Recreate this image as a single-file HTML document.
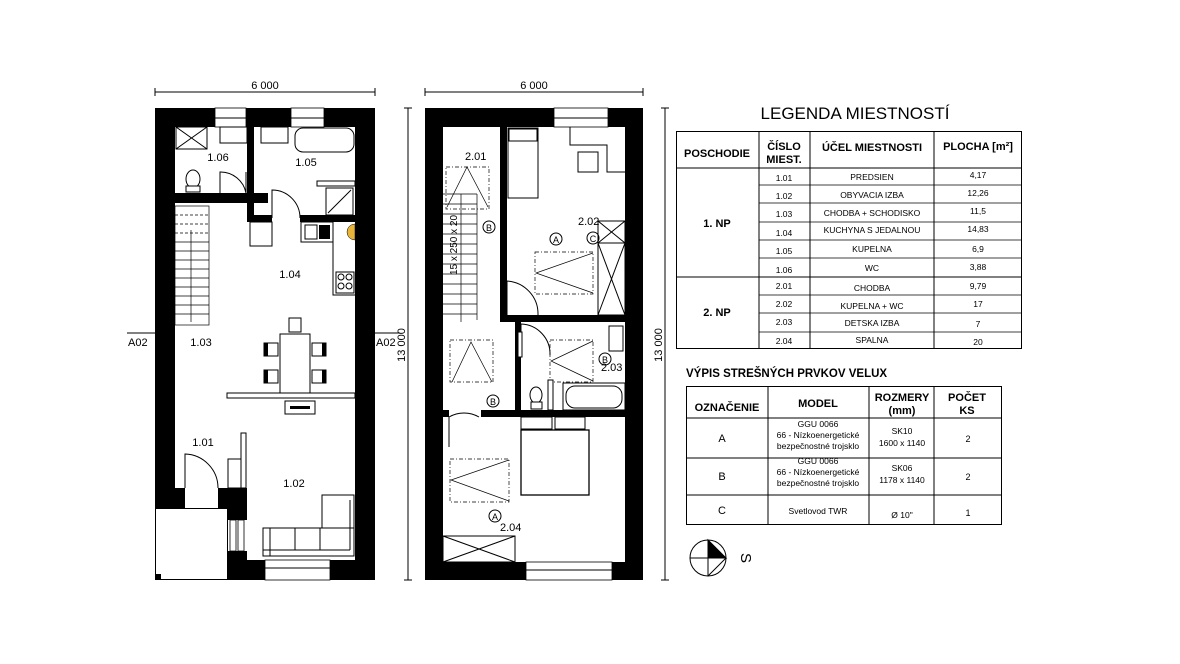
<!DOCTYPE html>
<html><head><meta charset="utf-8"><style>
html,body{margin:0;padding:0;background:#fff}
svg{display:block}
text{font-family:"Liberation Sans",sans-serif;fill:#000}
</style></head><body>
<svg width="1180" height="664" viewBox="0 0 1180 664" xmlns="http://www.w3.org/2000/svg">
<rect width="1180" height="664" fill="#fff"/>

<!-- ===== PLAN 1 ===== -->
<g>
<!-- dimension top -->
<line x1="155" y1="92" x2="375" y2="92" stroke="#000" stroke-width="1"/>
<line x1="155" y1="88" x2="155" y2="96" stroke="#000"/><line x1="375" y1="88" x2="375" y2="96" stroke="#000"/>
<text x="265" y="89" font-size="11" text-anchor="middle">6 000</text>
<!-- outer walls -->
<rect x="155" y="108" width="220" height="19" fill="#000"/>
<rect x="355" y="108" width="20" height="472" fill="#000"/>
<rect x="155" y="108" width="20" height="380" fill="#000"/>
<rect x="155" y="488" width="30" height="20" fill="#000"/>
<rect x="218" y="488" width="29" height="20" fill="#000"/>
<rect x="228" y="508" width="19" height="12" fill="#000"/>
<rect x="228" y="551" width="19" height="29" fill="#000"/>
<rect x="228" y="560" width="147" height="20" fill="#000"/>
<rect x="155.5" y="508.5" width="72" height="71" fill="#fff" stroke="#000"/>
<rect x="230" y="520" width="6" height="31" fill="#fff" stroke="#000" stroke-width="0.8"/>
<rect x="238" y="520" width="6" height="31" fill="#fff" stroke="#000" stroke-width="0.8"/>
<rect x="185" y="508" width="33" height="0" stroke="#000"/>
<!-- windows top -->
<rect x="215" y="108" width="31" height="19" fill="#fff" stroke="#000" stroke-width="0.8"/>
<line x1="215" y1="118" x2="246" y2="118" stroke="#000"/>
<rect x="291" y="108" width="33" height="19" fill="#fff" stroke="#000" stroke-width="0.8"/>
<line x1="291" y1="118" x2="324" y2="118" stroke="#000"/>
<!-- window bottom -->
<rect x="265" y="560" width="65" height="20" fill="#fff" stroke="#000" stroke-width="0.8"/>
<line x1="265" y1="568" x2="330" y2="568" stroke="#000"/>
<!-- WC walls -->
<rect x="175" y="193" width="93" height="10" fill="#000"/>
<rect x="247" y="127" width="7" height="95" fill="#000"/>
<rect x="247" y="215" width="25" height="7" fill="#000"/>
<rect x="300" y="215" width="55" height="7" fill="#000"/>
<!-- WC fixtures -->
<rect x="176" y="127" width="31" height="22" fill="#fff" stroke="#000"/>
<line x1="176" y1="127" x2="207" y2="149" stroke="#000"/><line x1="207" y1="127" x2="176" y2="149" stroke="#000"/>
<rect x="220" y="127" width="27" height="16" fill="#fff" stroke="#000"/>
<rect x="261" y="127" width="27" height="16" fill="#fff" stroke="#000"/>
<rect x="295" y="128" width="59" height="24" rx="8" fill="#fff" stroke="#000"/>
<ellipse cx="193" cy="179" rx="7" ry="9" fill="#fff" stroke="#000"/>
<rect x="186" y="186" width="14" height="6" fill="#fff" stroke="#000"/>
<path d="M220 193 V172 A26 26 0 0 1 246 193" fill="none" stroke="#000"/>
<line x1="246" y1="172" x2="246" y2="193" stroke="#000"/>
<path d="M272 218 V190 A28 28 0 0 1 300 218" fill="none" stroke="#000"/>
<rect x="317" y="181" width="38" height="5" fill="#fff" stroke="#000"/>
<rect x="326" y="188" width="27" height="27" fill="#fff" stroke="#000"/>
<line x1="328" y1="213" x2="351" y2="190" stroke="#000"/>
<path d="M355 224 A8 8 0 0 0 355 240 Z" fill="#e8b53a" stroke="#000" stroke-width="0.5"/>
<text x="218" y="161" font-size="11" text-anchor="middle">1.06</text>
<text x="306" y="166" font-size="11" text-anchor="middle">1.05</text>
<!-- kitchen counters -->
<rect x="250" y="222" width="22" height="24" fill="#fff" stroke="#000"/>
<rect x="301" y="222" width="32" height="20" fill="#fff" stroke="#000"/>
<rect x="305" y="225" width="12" height="14" fill="#fff" stroke="#000"/>
<rect x="319" y="225" width="11" height="14" fill="#000"/>
<polyline points="333,242 333,295 355,295" fill="none" stroke="#000"/>
<rect x="336" y="272" width="18" height="21" fill="#fff" stroke="#000"/>
<circle cx="341" cy="277" r="3" fill="none" stroke="#000"/><circle cx="349" cy="277" r="3" fill="none" stroke="#000"/>
<circle cx="341" cy="286" r="3" fill="none" stroke="#000"/><circle cx="349" cy="286" r="3" fill="none" stroke="#000"/>
<text x="290" y="278" font-size="11" text-anchor="middle">1.04</text>
<!-- stairs -->
<g stroke="#000" stroke-width="0.7" fill="none">
<rect x="175" y="206" width="34" height="119"/>
<line x1="175" y1="215" x2="209" y2="215" stroke-dasharray="3,2"/>
<line x1="175" y1="224" x2="209" y2="224" stroke-dasharray="3,2"/>
<line x1="175" y1="233" x2="209" y2="233" stroke-dasharray="3,2"/>
<line x1="175" y1="242" x2="209" y2="242"/>
<line x1="175" y1="251" x2="209" y2="251"/>
<line x1="175" y1="260" x2="209" y2="260"/>
<line x1="175" y1="269" x2="209" y2="269"/>
<line x1="175" y1="278" x2="209" y2="278"/>
<line x1="175" y1="287" x2="209" y2="287"/>
<line x1="175" y1="296" x2="209" y2="296"/>
<line x1="175" y1="305" x2="209" y2="305"/>
<line x1="175" y1="314" x2="209" y2="314"/>
<line x1="191" y1="230" x2="191" y2="322"/>
</g>
<text x="201" y="346" font-size="11" text-anchor="middle">1.03</text>
<text x="128" y="346" font-size="11">A02</text><line x1="127" y1="333" x2="155" y2="333" stroke="#000"/>
<text x="376" y="346" font-size="11">A02</text><line x1="375" y1="333" x2="400" y2="333" stroke="#000"/>
<!-- dining -->
<rect x="280" y="334" width="30" height="60" fill="#fff" stroke="#000"/>
<rect x="289" y="318" width="12" height="14" fill="#fff" stroke="#000"/>
<rect x="264" y="343" width="14" height="13" fill="#fff" stroke="#000"/><rect x="264" y="343" width="4" height="13" fill="#000"/>
<rect x="264" y="370" width="14" height="13" fill="#fff" stroke="#000"/><rect x="264" y="370" width="4" height="13" fill="#000"/>
<rect x="312" y="343" width="14" height="13" fill="#fff" stroke="#000"/><rect x="322" y="343" width="4" height="13" fill="#000"/>
<rect x="312" y="370" width="14" height="13" fill="#fff" stroke="#000"/><rect x="322" y="370" width="4" height="13" fill="#000"/>
<rect x="227" y="393" width="128" height="5" fill="#fff" stroke="#000"/>
<rect x="285" y="401" width="30" height="13" fill="#fff" stroke="#000"/>
<rect x="290" y="406" width="20" height="3" fill="#000"/>
<!-- entry -->
<rect x="241" y="433" width="5" height="55" fill="#fff" stroke="#000"/>
<rect x="228" y="459" width="13" height="29" fill="#fff" stroke="#000"/>
<path d="M185 488 V454 A34 34 0 0 1 218 488" fill="none" stroke="#000"/>
<text x="203" y="446" font-size="11" text-anchor="middle">1.01</text>
<text x="294" y="487" font-size="11" text-anchor="middle">1.02</text>
<!-- sofa -->
<rect x="322" y="495" width="32" height="61" fill="#fff" stroke="#000"/>
<rect x="263" y="528" width="91" height="28" fill="#fff" stroke="#000"/>
<line x1="270" y1="528" x2="270" y2="556" stroke="#000"/><line x1="295" y1="528" x2="295" y2="550" stroke="#000"/>
<line x1="320" y1="528" x2="320" y2="550" stroke="#000"/><line x1="263" y1="550" x2="350" y2="550" stroke="#000"/>
<line x1="350" y1="500" x2="350" y2="550" stroke="#000"/>
<rect x="155" y="574" width="6" height="6" fill="#000"/>
</g>

<!-- vertical dims -->
<line x1="408" y1="108" x2="408" y2="580" stroke="#000"/>
<line x1="404" y1="108" x2="412" y2="108" stroke="#000"/><line x1="404" y1="580" x2="412" y2="580" stroke="#000"/>
<text transform="translate(405,345) rotate(-90)" font-size="11" text-anchor="middle">13 000</text>
<line x1="665" y1="108" x2="665" y2="580" stroke="#000"/>
<line x1="661" y1="108" x2="669" y2="108" stroke="#000"/><line x1="661" y1="580" x2="669" y2="580" stroke="#000"/>
<text transform="translate(662,345) rotate(-90)" font-size="11" text-anchor="middle">13 000</text>

<!-- ===== PLAN 2 ===== -->
<g>
<line x1="425" y1="92" x2="643" y2="92" stroke="#000"/>
<line x1="425" y1="88" x2="425" y2="96" stroke="#000"/><line x1="643" y1="88" x2="643" y2="96" stroke="#000"/>
<text x="534" y="89" font-size="11" text-anchor="middle">6 000</text>
<rect x="425" y="108" width="218" height="19" fill="#000"/>
<rect x="425" y="108" width="18" height="472" fill="#000"/>
<rect x="625" y="108" width="18" height="472" fill="#000"/>
<rect x="425" y="562" width="218" height="18" fill="#000"/>
<rect x="554" y="108" width="54" height="19" fill="#fff" stroke="#000" stroke-width="0.8"/>
<line x1="554" y1="118" x2="608" y2="118" stroke="#000"/>
<rect x="526" y="562" width="86" height="18" fill="#fff" stroke="#000" stroke-width="0.8"/>
<line x1="526" y1="570" x2="612" y2="570" stroke="#000"/>
<!-- interior walls -->
<rect x="500" y="127" width="7" height="195" fill="#000"/>
<rect x="500" y="315" width="125" height="7" fill="#000"/>
<rect x="515" y="315" width="6" height="100" fill="#000"/>
<rect x="443" y="410" width="182" height="7" fill="#000"/>
<rect x="449" y="410" width="32" height="7" fill="#fff"/>
<!-- stairs -->
<g stroke="#000" stroke-width="0.7" fill="none">
<line x1="443" y1="194" x2="477" y2="194"/>
<line x1="443" y1="204" x2="477" y2="204"/><line x1="443" y1="214" x2="477" y2="214"/>
<line x1="443" y1="224" x2="477" y2="224"/><line x1="443" y1="234" x2="477" y2="234"/>
<line x1="443" y1="244" x2="477" y2="244"/><line x1="443" y1="254" x2="477" y2="254"/>
<line x1="443" y1="264" x2="477" y2="264"/><line x1="443" y1="274" x2="477" y2="274"/>
<line x1="443" y1="284" x2="477" y2="284"/><line x1="443" y1="294" x2="477" y2="294"/>
<line x1="443" y1="304" x2="477" y2="304"/><line x1="443" y1="314" x2="477" y2="314"/>
<line x1="477" y1="194" x2="477" y2="320"/>
<line x1="461" y1="194" x2="461" y2="322"/>
<rect x="446" y="167" width="43" height="42" stroke-dasharray="4,2,1,2"/>
<polyline points="447,207 467,167 488,207"/>
<rect x="450" y="340" width="43" height="42" stroke-dasharray="4,2,1,2"/>
<polyline points="452,382 471,342 492,382"/>
</g>
<text x="465" y="160" font-size="11">2.01</text>
<text transform="translate(457,245) rotate(-90)" font-size="10" text-anchor="middle">15 x 250 x 20</text>
<circle cx="489" cy="227" r="6" fill="#fff" stroke="#000"/><text x="489" y="231" font-size="9" text-anchor="middle">B</text>
<circle cx="493" cy="401" r="6" fill="#fff" stroke="#000"/><text x="493" y="405" font-size="9" text-anchor="middle">B</text>
<!-- 2.02 -->
<rect x="508" y="128" width="30" height="70" fill="#fff" stroke="#000"/>
<rect x="509" y="129" width="28" height="12" fill="#fff" stroke="#000"/>
<polyline points="570,127 570,145 607,145 607,172 625,172" fill="none" stroke="#000"/>
<rect x="578" y="152" width="20" height="20" fill="#fff" stroke="#000"/>
<text x="578" y="225" font-size="11">2.02</text>
<circle cx="556" cy="239" r="6" fill="#fff" stroke="#000"/><text x="556" y="243" font-size="9" text-anchor="middle">A</text>
<circle cx="593" cy="238" r="6" fill="#fff" stroke="#000"/><text x="593" y="242" font-size="9" text-anchor="middle">C</text>
<rect x="535" y="252" width="58" height="42" fill="none" stroke="#000" stroke-dasharray="4,2,1,2" stroke-width="0.7"/>
<polyline points="593,253 536,273 593,293" fill="none" stroke="#000" stroke-width="0.7"/>
<rect x="598" y="221" width="27" height="94" fill="none" stroke="#000"/>
<line x1="598" y1="243" x2="625" y2="243" stroke="#000"/>
<line x1="598" y1="221" x2="625" y2="243" stroke="#000"/><line x1="625" y1="221" x2="598" y2="243" stroke="#000"/>
<line x1="598" y1="243" x2="625" y2="315" stroke="#000"/><line x1="625" y1="243" x2="598" y2="315" stroke="#000"/>
<path d="M507 315 V281 A33 33 0 0 1 538 315" fill="none" stroke="#000"/>
<!-- 2.03 bath -->
<path d="M521 355 V324 A30 30 0 0 1 550 355" fill="none" stroke="#000"/>
<rect x="518" y="332" width="4" height="25" fill="#fff" stroke="#000"/>
<rect x="550" y="340" width="43" height="42" fill="none" stroke="#000" stroke-dasharray="4,2,1,2" stroke-width="0.7"/>
<polyline points="593,341 551,361 593,381" fill="none" stroke="#000" stroke-width="0.7"/>
<rect x="609" y="326" width="14" height="25" fill="#fff" stroke="#000"/>
<circle cx="605" cy="359" r="6" fill="#fff" stroke="#000"/><text x="605" y="363" font-size="9" text-anchor="middle">B</text>
<text x="601" y="371" font-size="11">2.03</text>
<rect x="563" y="383" width="62" height="27" fill="none" stroke="#000"/>
<rect x="566" y="386" width="56" height="22" rx="9" fill="#fff" stroke="#000"/>
<ellipse cx="536" cy="395" rx="6" ry="8" fill="#fff" stroke="#000"/>
<rect x="531" y="402" width="11" height="7" fill="#fff" stroke="#000"/>
<rect x="548" y="380" width="5" height="30" fill="#fff" stroke="#000"/>
<!-- 2.04 -->
<path d="M449 447 V417 A30 30 0 0 1 479 417" fill="none" stroke="#000"/>
<rect x="521" y="417" width="31" height="12" fill="#fff" stroke="#000"/>
<rect x="555" y="417" width="30" height="12" fill="#fff" stroke="#000"/>
<rect x="521" y="430" width="68" height="65" fill="#fff" stroke="#000" stroke-width="1.3"/>
<rect x="450" y="459" width="59" height="43" fill="none" stroke="#000" stroke-dasharray="4,2,1,2" stroke-width="0.7"/>
<polyline points="509,460 451,480 509,501" fill="none" stroke="#000" stroke-width="0.7"/>
<circle cx="495" cy="516" r="6" fill="#fff" stroke="#000"/><text x="495" y="520" font-size="9" text-anchor="middle">A</text>
<text x="500" y="531" font-size="11">2.04</text>
<rect x="443" y="536" width="72" height="26" fill="none" stroke="#000"/>
<line x1="443" y1="536" x2="515" y2="562" stroke="#000"/><line x1="515" y1="536" x2="443" y2="562" stroke="#000"/>
</g>

<!-- ===== LEGENDA ===== -->
<text x="855" y="119" font-size="17" text-anchor="middle">LEGENDA MIESTNOSTÍ</text>
<g stroke="#000" fill="none">
<rect x="676.5" y="131.5" width="345" height="217"/>
<line x1="759" y1="131" x2="759" y2="348"/><line x1="810" y1="131" x2="810" y2="348"/><line x1="934" y1="131" x2="934" y2="348"/>
<line x1="676" y1="168" x2="1022" y2="168"/><line x1="676" y1="277" x2="1022" y2="277"/>
<g stroke-width="0.7">
<line x1="759" y1="185" x2="1022" y2="185"/><line x1="759" y1="203" x2="1022" y2="203"/><line x1="759" y1="222" x2="1022" y2="222"/>
<line x1="759" y1="240" x2="1022" y2="240"/><line x1="759" y1="258" x2="1022" y2="258"/>
<line x1="759" y1="295" x2="1022" y2="295"/><line x1="759" y1="313" x2="1022" y2="313"/><line x1="759" y1="332" x2="1022" y2="332"/>
</g></g>
<g font-size="11" font-weight="bold">
<text x="717" y="157" text-anchor="middle" font-size="11">POSCHODIE</text>
<text x="784" y="150" text-anchor="middle">ČÍSLO</text><text x="784" y="163" text-anchor="middle">MIEST.</text>
<text x="872" y="151" text-anchor="middle">ÚČEL MIESTNOSTI</text>
<text x="978" y="150" text-anchor="middle">PLOCHA [m²]</text>
<text x="717" y="227" text-anchor="middle">1. NP</text>
<text x="717" y="316" text-anchor="middle">2. NP</text>
</g>
<g font-size="8.5" text-anchor="middle">
<text x="784" y="181">1.01</text><text x="872" y="180">PREDSIEN</text><text x="978" y="178">4,17</text>
<text x="784" y="199">1.02</text><text x="872" y="198">OBYVACIA IZBA</text><text x="978" y="196">12,26</text>
<text x="784" y="217">1.03</text><text x="872" y="216">CHODBA + SCHODISKO</text><text x="978" y="214">11,5</text>
<text x="784" y="236">1.04</text><text x="872" y="233">KUCHYNA S JEDALNOU</text><text x="978" y="232">14,83</text>
<text x="784" y="254">1.05</text><text x="872" y="252">KUPELNA</text><text x="978" y="252">6,9</text>
<text x="784" y="273">1.06</text><text x="872" y="271">WC</text><text x="978" y="270">3,88</text>
<text x="784" y="289">2.01</text><text x="872" y="291">CHODBA</text><text x="978" y="289">9,79</text>
<text x="784" y="307">2.02</text><text x="872" y="309">KUPELNA + WC</text><text x="978" y="307">17</text>
<text x="784" y="325">2.03</text><text x="872" y="326">DETSKA IZBA</text><text x="978" y="327">7</text>
<text x="784" y="344">2.04</text><text x="872" y="343">SPALNA</text><text x="978" y="345">20</text>
</g>

<!-- ===== VELUX ===== -->
<text x="686" y="377" font-size="11.5" font-weight="bold">VÝPIS STREŠNÝCH PRVKOV VELUX</text>
<g stroke="#000" fill="none">
<rect x="686.5" y="386.5" width="315" height="138"/>
<line x1="768" y1="386" x2="768" y2="525"/><line x1="869" y1="386" x2="869" y2="525"/><line x1="934" y1="386" x2="934" y2="525"/>
<line x1="686" y1="418" x2="1002" y2="418"/><line x1="686" y1="458" x2="1002" y2="458"/><line x1="686" y1="495" x2="1002" y2="495"/>
</g>
<g font-size="11" font-weight="bold" text-anchor="middle">
<text x="727" y="411">OZNAČENIE</text>
<text x="818" y="407">MODEL</text>
<text x="902" y="401">ROZMERY</text><text x="902" y="414">(mm)</text>
<text x="967" y="401">POČET</text><text x="967" y="414">KS</text>
</g>
<g font-size="11" text-anchor="middle">
<text x="722" y="442">A</text><text x="722" y="480">B</text><text x="722" y="514">C</text>
<text x="968" y="442" font-size="9">2</text><text x="968" y="480" font-size="9">2</text><text x="968" y="516" font-size="9">1</text>
</g>
<g font-size="8.5" text-anchor="middle">
<text x="818" y="427">GGU 0066</text><text x="818" y="438">66 - Nízkoenergetické</text><text x="818" y="449">bezpečnostné trojsklo</text>
<text x="818" y="464">GGU 0066</text><text x="818" y="475">66 - Nízkoenergetické</text><text x="818" y="486">bezpečnostné trojsklo</text>
<text x="818" y="514">Svetlovod TWR</text>
<text x="902" y="434">SK10</text><text x="902" y="446">1600 x 1140</text>
<text x="902" y="471">SK06</text><text x="902" y="483">1178 x 1140</text>
<text x="902" y="518">Ø 10"</text>
</g>

<!-- compass -->
<g stroke="#000" fill="none" stroke-width="1">
<circle cx="708" cy="558" r="18"/>
<line x1="690" y1="558" x2="726" y2="558"/><line x1="708" y1="540" x2="708" y2="576"/>
<path d="M708 540 L726 558 L708 558 Z" fill="#000"/>
<line x1="726" y1="558" x2="708" y2="576"/>
</g>
<text transform="translate(741,558) rotate(90)" font-size="15" text-anchor="middle">S</text>
</svg>
</body></html>
